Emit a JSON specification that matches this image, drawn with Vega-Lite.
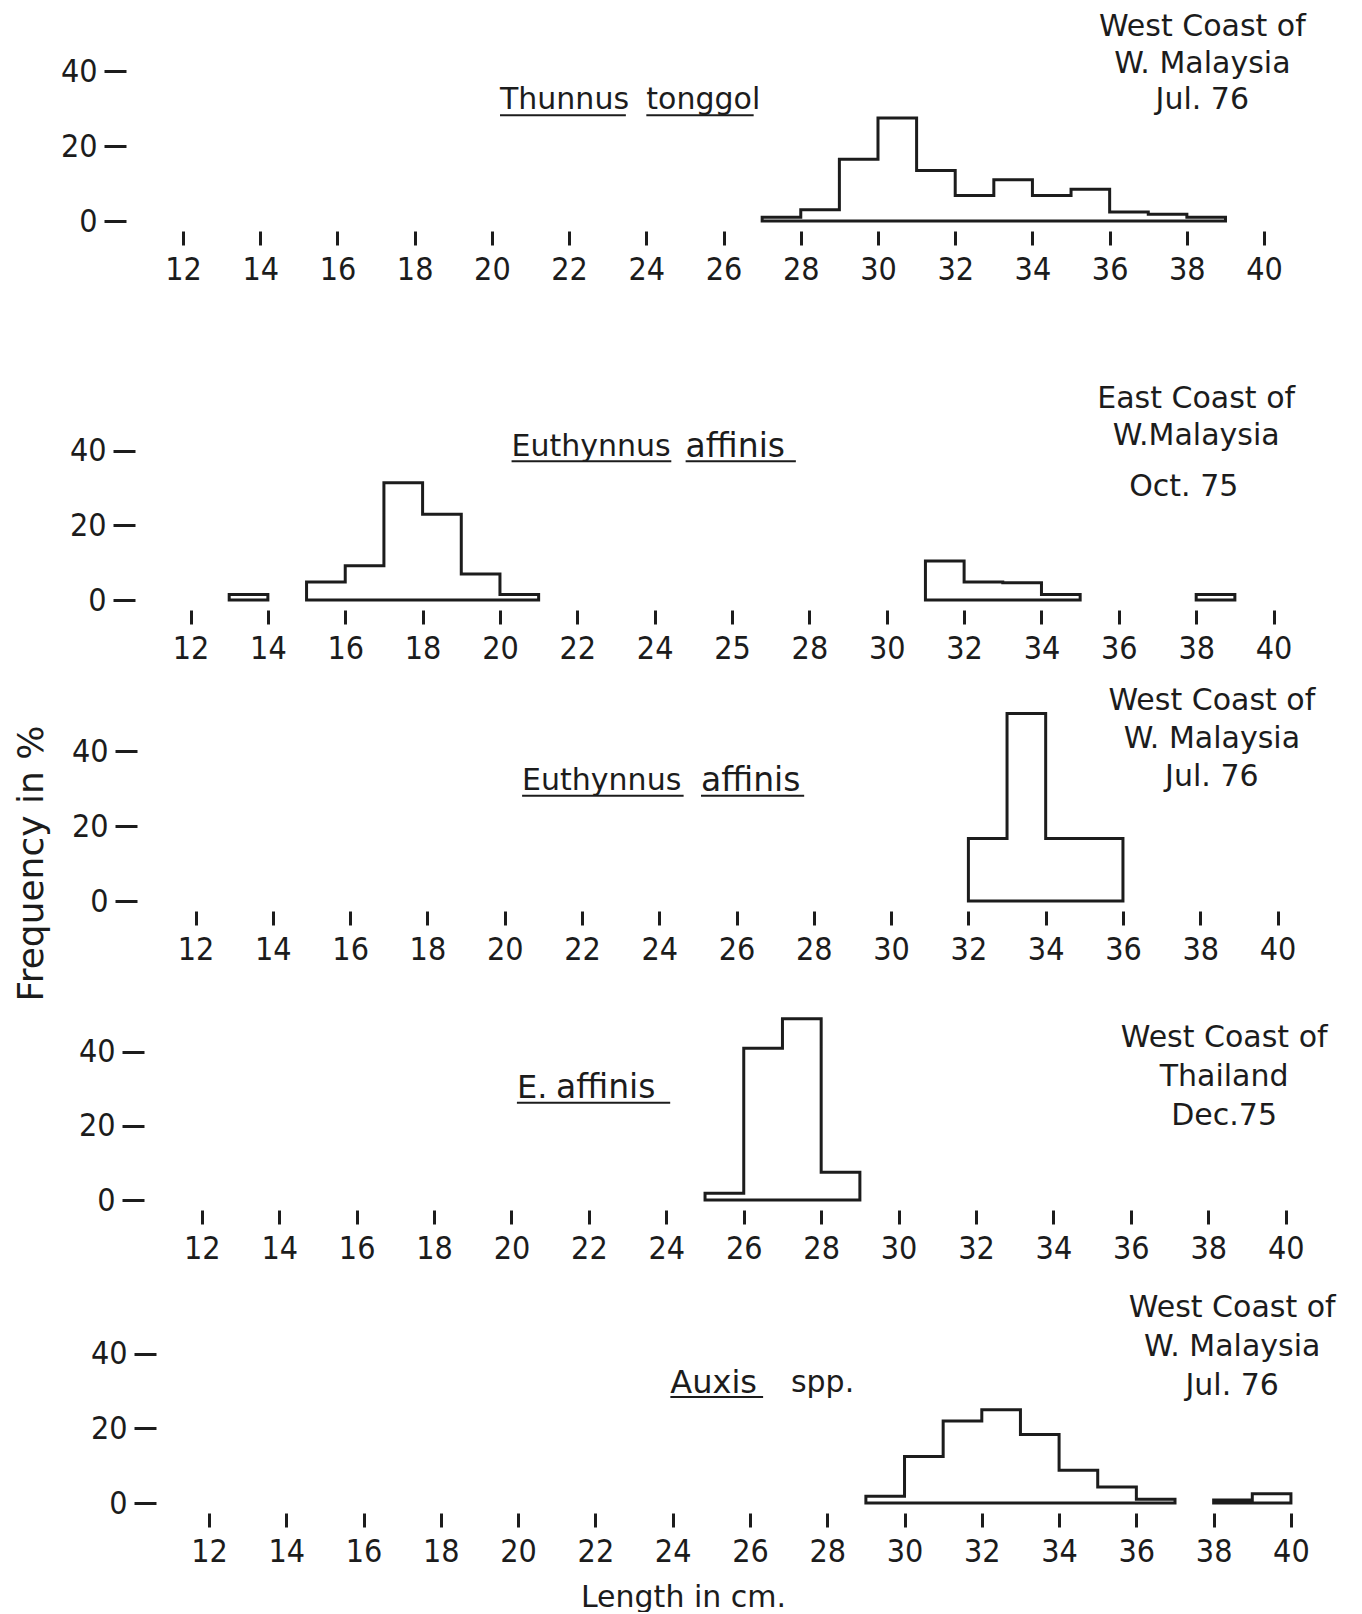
{
  "$schema": "https://vega.github.io/schema/vega-lite/v6.json",
  "background": "white",
  "padding": {"left": 13, "top": 1, "right": 0, "bottom": 0},
  "spacing": 0,
  "bounds": "flush",
  "datasets": {
    "bins": [
      {"panel": "A", "seg": 1, "len": 27, "pct": 1},
      {"panel": "A", "seg": 1, "len": 28, "pct": 3},
      {"panel": "A", "seg": 1, "len": 29, "pct": 16.5},
      {"panel": "A", "seg": 1, "len": 30, "pct": 27.5},
      {"panel": "A", "seg": 1, "len": 31, "pct": 13.5},
      {"panel": "A", "seg": 1, "len": 32, "pct": 6.8},
      {"panel": "A", "seg": 1, "len": 33, "pct": 11},
      {"panel": "A", "seg": 1, "len": 34, "pct": 6.8},
      {"panel": "A", "seg": 1, "len": 35, "pct": 8.5},
      {"panel": "A", "seg": 1, "len": 36, "pct": 2.4},
      {"panel": "A", "seg": 1, "len": 37, "pct": 1.8},
      {"panel": "A", "seg": 1, "len": 38, "pct": 1},
      {"panel": "A", "seg": 1, "len": 39, "pct": 0},
      {"panel": "B", "seg": 1, "len": 13, "pct": 1.5},
      {"panel": "B", "seg": 1, "len": 14, "pct": 0},
      {"panel": "B", "seg": 2, "len": 15, "pct": 4.8},
      {"panel": "B", "seg": 2, "len": 16, "pct": 9.2},
      {"panel": "B", "seg": 2, "len": 17, "pct": 31.5},
      {"panel": "B", "seg": 2, "len": 18, "pct": 23},
      {"panel": "B", "seg": 2, "len": 19, "pct": 7},
      {"panel": "B", "seg": 2, "len": 20, "pct": 1.5},
      {"panel": "B", "seg": 2, "len": 21, "pct": 0},
      {"panel": "B", "seg": 3, "len": 31, "pct": 10.5},
      {"panel": "B", "seg": 3, "len": 32, "pct": 4.8},
      {"panel": "B", "seg": 3, "len": 33, "pct": 4.6},
      {"panel": "B", "seg": 3, "len": 34, "pct": 1.5},
      {"panel": "B", "seg": 3, "len": 35, "pct": 0},
      {"panel": "B", "seg": 4, "len": 38, "pct": 1.5},
      {"panel": "B", "seg": 4, "len": 39, "pct": 0},
      {"panel": "C", "seg": 1, "len": 32, "pct": 16.7},
      {"panel": "C", "seg": 1, "len": 33, "pct": 50},
      {"panel": "C", "seg": 1, "len": 34, "pct": 16.7},
      {"panel": "C", "seg": 1, "len": 35, "pct": 16.7},
      {"panel": "C", "seg": 1, "len": 36, "pct": 0},
      {"panel": "D", "seg": 1, "len": 25, "pct": 1.8},
      {"panel": "D", "seg": 1, "len": 26, "pct": 41},
      {"panel": "D", "seg": 1, "len": 27, "pct": 49},
      {"panel": "D", "seg": 1, "len": 28, "pct": 7.5},
      {"panel": "D", "seg": 1, "len": 29, "pct": 0},
      {"panel": "E", "seg": 1, "len": 29, "pct": 1.8},
      {"panel": "E", "seg": 1, "len": 30, "pct": 12.5},
      {"panel": "E", "seg": 1, "len": 31, "pct": 22},
      {"panel": "E", "seg": 1, "len": 32, "pct": 25},
      {"panel": "E", "seg": 1, "len": 33, "pct": 18.4},
      {"panel": "E", "seg": 1, "len": 34, "pct": 8.8},
      {"panel": "E", "seg": 1, "len": 35, "pct": 4.3},
      {"panel": "E", "seg": 1, "len": 36, "pct": 1},
      {"panel": "E", "seg": 1, "len": 37, "pct": 0},
      {"panel": "E", "seg": 2, "len": 38, "pct": 0.8},
      {"panel": "E", "seg": 2, "len": 39, "pct": 2.5},
      {"panel": "E", "seg": 2, "len": 40, "pct": 0}
    ]
  },
  "config": {
    "view": {"stroke": null},
    "axis": {
      "grid": false,
      "domain": false,
      "tickColor": "#1c1c1c",
      "tickWidth": 3,
      "labelColor": "#1c1c1c",
      "labelFont": "Liberation Sans Narrow, DejaVu Sans Condensed, sans-serif",
      "labelFontSize": 32,
      "labelFlush": false,
      "labelOverlap": false,
      "titleColor": "#1c1c1c",
      "titleFont": "DejaVu Sans",
      "titleFontWeight": "normal",
      "titleFontSize": 30
    },
    "axisX": {"tickSize": 14, "offset": 10, "labelPadding": 9},
    "axisY": {"tickSize": 22, "labelPadding": 7},
    "text": {"font": "DejaVu Sans", "color": "#1c1c1c", "fontSize": 30},
    "rule": {"color": "#1c1c1c", "strokeWidth": 2}
  },
  "vconcat": [
    {
      "width": 1180,
      "height": 220,
      "layer": [
        {
          "data": {"name": "bins"},
          "transform": [{"filter": "datum.panel === 'A'"}],
          "mark": {"type": "area", "interpolate": "step-after", "fill": "white", "fillOpacity": 0, "stroke": "#1c1c1c", "strokeWidth": 3},
          "encoding": {
            "x": {"field": "len", "type": "quantitative", "scale": {"domain": [11.404, 41.966], "nice": false, "zero": false},
                  "axis": {"values": [12, 14, 16, 18, 20, 22, 24, 26, 28, 30, 32, 34, 36, 38, 40], "title": null}},
            "y": {"field": "pct", "type": "quantitative", "stack": null, "scale": {"domain": [0, 58.667], "nice": false},
                  "axis": {"values": [0, 20, 40], "title": null, "offset": 34}},
            "detail": {"field": "seg", "type": "nominal"}
          }
        },
        {"data": {"values": [{}]}, "mark": {"type": "text", "align": "left", "baseline": "middle"},
         "encoding": {"x": {"datum": 20.21}, "y": {"datum": 32.27}, "text": {"value": "Thunnus"}}},
        {"data": {"values": [{}]}, "mark": {"type": "text", "align": "left", "baseline": "middle"},
         "encoding": {"x": {"datum": 24.0}, "y": {"datum": 32.27}, "text": {"value": "tonggol"}}},
        {"data": {"values": [{}]}, "mark": {"type": "rule"},
         "encoding": {"x": {"datum": 20.21}, "x2": {"datum": 23.47}, "y": {"datum": 28.19}}},
        {"data": {"values": [{}]}, "mark": {"type": "rule"},
         "encoding": {"x": {"datum": 24.0}, "x2": {"datum": 26.78}, "y": {"datum": 28.19}}},
        {"data": {"values": [{}]}, "mark": {"type": "text", "align": "center", "baseline": "top", "lineHeight": 36.5},
         "encoding": {"x": {"datum": 38.4}, "y": {"datum": 55.7}, "text": {"value": ["West Coast of", "W. Malaysia", "Jul. 76"]}}}
      ]
    },
    {
      "width": 1180,
      "height": 379,
      "layer": [
        {
          "data": {"name": "bins"},
          "transform": [{"filter": "datum.panel === 'B'"}],
          "mark": {"type": "area", "interpolate": "step-after", "fill": "white", "fillOpacity": 0, "stroke": "#1c1c1c", "strokeWidth": 3},
          "encoding": {
            "x": {"field": "len", "type": "quantitative", "scale": {"domain": [11.211, 41.718], "nice": false, "zero": false},
                  "axis": {"values": [12, 14, 16, 18, 20, 22, 24, 26, 28, 30, 32, 34, 36, 38, 40], "title": null,
                           "labelExpr": "datum.value === 26 ? '25' : datum.label"}},
            "y": {"field": "pct", "type": "quantitative", "stack": null, "scale": {"domain": [0, 101.74], "nice": false},
                  "axis": {"values": [0, 20, 40], "title": null, "offset": 25}},
            "detail": {"field": "seg", "type": "nominal"}
          }
        },
        {"data": {"values": [{}]}, "mark": {"type": "text", "align": "left", "baseline": "middle"},
         "encoding": {"x": {"datum": 20.3}, "y": {"datum": 41.13}, "text": {"value": "Euthynnus"}}},
        {"data": {"values": [{}]}, "mark": {"type": "text", "align": "left", "baseline": "middle", "fontSize": 33},
         "encoding": {"x": {"datum": 24.8}, "y": {"datum": 41.13}, "text": {"value": "affinis"}}},
        {"data": {"values": [{}]}, "mark": {"type": "rule"},
         "encoding": {"x": {"datum": 20.3}, "x2": {"datum": 24.43}, "y": {"datum": 37.26}}},
        {"data": {"values": [{}]}, "mark": {"type": "rule"},
         "encoding": {"x": {"datum": 24.8}, "x2": {"datum": 27.65}, "y": {"datum": 37.26}}},
        {"data": {"values": [{}]}, "mark": {"type": "text", "align": "center", "baseline": "top", "lineHeight": 37},
         "encoding": {"x": {"datum": 38.0}, "y": {"datum": 57.88}, "text": {"value": ["East Coast of", "W.Malaysia"]}}},
        {"data": {"values": [{}]}, "mark": {"type": "text", "align": "center", "baseline": "top"},
         "encoding": {"x": {"datum": 37.68}, "y": {"datum": 34.39}, "text": {"value": "Oct. 75"}}}
      ]
    },
    {
      "width": 1180,
      "height": 301,
      "layer": [
        {
          "data": {"name": "bins"},
          "transform": [{"filter": "datum.panel === 'C'"}],
          "mark": {"type": "area", "interpolate": "step-after", "fill": "white", "fillOpacity": 0, "stroke": "#1c1c1c", "strokeWidth": 3},
          "encoding": {
            "x": {"field": "len", "type": "quantitative", "scale": {"domain": [11.079, 41.617], "nice": false, "zero": false},
                  "axis": {"values": [12, 14, 16, 18, 20, 22, 24, 26, 28, 30, 32, 34, 36, 38, 40], "title": null}},
            "y": {"field": "pct", "type": "quantitative", "stack": null, "scale": {"domain": [0, 80.27], "nice": false},
                  "axis": {"values": [0, 20, 40], "title": "Frequency in %", "offset": 23, "titleAngle": 270,
                           "titleFontSize": 36, "titleX": -106, "titleY": 263, "titleAlign": "center", "titleBaseline": "middle"}},
            "detail": {"field": "seg", "type": "nominal"}
          }
        },
        {"data": {"values": [{}]}, "mark": {"type": "text", "align": "left", "baseline": "middle"},
         "encoding": {"x": {"datum": 20.45}, "y": {"datum": 31.9}, "text": {"value": "Euthynnus"}}},
        {"data": {"values": [{}]}, "mark": {"type": "text", "align": "left", "baseline": "middle", "fontSize": 33},
         "encoding": {"x": {"datum": 25.08}, "y": {"datum": 31.9}, "text": {"value": "affinis"}}},
        {"data": {"values": [{}]}, "mark": {"type": "rule"},
         "encoding": {"x": {"datum": 20.45}, "x2": {"datum": 24.63}, "y": {"datum": 28.05}}},
        {"data": {"values": [{}]}, "mark": {"type": "rule"},
         "encoding": {"x": {"datum": 25.08}, "x2": {"datum": 27.75}, "y": {"datum": 28.05}}},
        {"data": {"values": [{}]}, "mark": {"type": "text", "align": "center", "baseline": "top", "lineHeight": 38},
         "encoding": {"x": {"datum": 38.3}, "y": {"datum": 57.33}, "text": {"value": ["West Coast of", "W. Malaysia", "Jul. 76"]}}}
      ]
    },
    {
      "width": 1180,
      "height": 299,
      "layer": [
        {
          "data": {"name": "bins"},
          "transform": [{"filter": "datum.panel === 'D'"}],
          "mark": {"type": "area", "interpolate": "step-after", "fill": "white", "fillOpacity": 0, "stroke": "#1c1c1c", "strokeWidth": 3},
          "encoding": {
            "x": {"field": "len", "type": "quantitative", "scale": {"domain": [10.92, 41.403], "nice": false, "zero": false},
                  "axis": {"values": [12, 14, 16, 18, 20, 22, 24, 26, 28, 30, 32, 34, 36, 38, 40], "title": null}},
            "y": {"field": "pct", "type": "quantitative", "stack": null, "scale": {"domain": [0, 80.81], "nice": false},
                  "axis": {"values": [0, 20, 40], "title": null, "offset": 16}},
            "detail": {"field": "seg", "type": "nominal"}
          }
        },
        {"data": {"values": [{}]}, "mark": {"type": "text", "align": "left", "baseline": "middle", "fontSize": 32},
         "encoding": {"x": {"datum": 20.14}, "y": {"datum": 30.2}, "text": {"value": "E."}}},
        {"data": {"values": [{}]}, "mark": {"type": "text", "align": "left", "baseline": "middle", "fontSize": 33},
         "encoding": {"x": {"datum": 21.15}, "y": {"datum": 30.2}, "text": {"value": "affinis"}}},
        {"data": {"values": [{}]}, "mark": {"type": "rule"},
         "encoding": {"x": {"datum": 20.14}, "x2": {"datum": 24.1}, "y": {"datum": 26.3}}},
        {"data": {"values": [{}]}, "mark": {"type": "text", "align": "center", "baseline": "top", "lineHeight": 39},
         "encoding": {"x": {"datum": 38.41}, "y": {"datum": 47.95}, "text": {"value": ["West Coast of", "Thailand", "Dec.75"]}}}
      ]
    },
    {
      "width": 1180,
      "height": 303,
      "layer": [
        {
          "data": {"name": "bins"},
          "transform": [{"filter": "datum.panel === 'E'"}],
          "mark": {"type": "area", "interpolate": "step-after", "fill": "white", "fillOpacity": 0, "stroke": "#1c1c1c", "strokeWidth": 3},
          "encoding": {
            "x": {"field": "len", "type": "quantitative", "scale": {"domain": [10.732, 41.27], "nice": false, "zero": false},
                  "axis": {"values": [12, 14, 16, 18, 20, 22, 24, 26, 28, 30, 32, 34, 36, 38, 40], "title": "Length in cm.",
                           "titleX": 523, "titleY": 84, "titleAlign": "center", "titleBaseline": "middle"}},
            "y": {"field": "pct", "type": "quantitative", "stack": null, "scale": {"domain": [0, 81.34], "nice": false},
                  "axis": {"values": [0, 20, 40], "title": null, "offset": 4}},
            "detail": {"field": "seg", "type": "nominal"}
          }
        },
        {"data": {"values": [{}]}, "mark": {"type": "text", "align": "left", "baseline": "middle", "fontSize": 32},
         "encoding": {"x": {"datum": 23.94}, "y": {"datum": 32.3}, "text": {"value": "Auxis"}}},
        {"data": {"values": [{}]}, "mark": {"type": "text", "align": "left", "baseline": "middle"},
         "encoding": {"x": {"datum": 27.06}, "y": {"datum": 32.3}, "text": {"value": "spp."}}},
        {"data": {"values": [{}]}, "mark": {"type": "rule"},
         "encoding": {"x": {"datum": 23.94}, "x2": {"datum": 26.34}, "y": {"datum": 28.46}}},
        {"data": {"values": [{}]}, "mark": {"type": "text", "align": "center", "baseline": "top", "lineHeight": 39},
         "encoding": {"x": {"datum": 38.48}, "y": {"datum": 56.27}, "text": {"value": ["West Coast of", "W. Malaysia", "Jul. 76"]}}}
      ]
    }
  ]
}
